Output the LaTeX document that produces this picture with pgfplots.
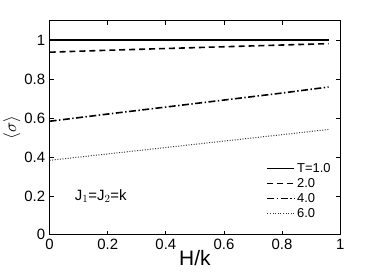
\documentclass[border=0pt]{standalone}
\usepackage{fontspec}
\setmainfont{Liberation Sans}
\setsansfont{Liberation Sans}
\usepackage{pgfplots}
\pgfplotsset{compat=1.18}
\begin{document}
\begin{tikzpicture}
\begin{axis}[
  scale only axis, width=292pt, height=215pt,
  xmin=0, xmax=1, ymin=0, ymax=1.1,
  xtick={0,0.2,0.4,0.6,0.8,1}, ytick={0,0.2,0.4,0.6,0.8,1},
  xticklabels={0,0.2,0.4,0.6,0.8,1}, yticklabels={0,0.2,0.4,0.6,0.8,1},
  /pgf/number format/assume math mode=true,
  tick align=inside, major tick length=4pt,
  axis line style={line width=1.2pt},
  every tick/.style={black, line width=0.8pt},
  tick label style={font=\fontsize{15}{17}\selectfont},
  xticklabel style={yshift=-1pt},
  yticklabel style={xshift=-1pt},
  xlabel={H/k}, xlabel style={font=\fontsize{21}{23}\selectfont, yshift=6pt},
  ylabel={$\langle\sigma\rangle$}, ylabel style={font=\fontsize{19}{21}\selectfont, yshift=-3pt},
  legend style={draw=none, fill=none, at={(0.985,0.055)}, anchor=south east,
    font=\fontsize{13}{15}\selectfont, row sep=0.5pt},
  legend cell align=left,
  legend image code/.code={\draw[#1] (0cm,0cm) -- (0.95cm,0cm);},
]
\addplot[black, line width=1.7pt] coordinates {(0,1.0) (0.96,1.0)};
\addlegendentry{T=1.0}
\addplot[black, line width=1.6pt, dash pattern=on 6pt off 4pt] coordinates {(0,0.939) (0.2,0.949) (0.4,0.958) (0.6,0.967) (0.8,0.976) (0.96,0.983)};
\addlegendentry{2.0}
\addplot[black, line width=1.6pt, dash pattern=on 7pt off 2.5pt on 1.4pt off 2.5pt] coordinates {(0,0.584) (0.2,0.621) (0.4,0.657) (0.6,0.693) (0.8,0.729) (0.96,0.760)};
\addlegendentry{4.0}
\addplot[black!80, line width=1pt, dash pattern=on 1pt off 1.6pt] coordinates {(0,0.383) (0.2,0.416) (0.4,0.449) (0.6,0.482) (0.8,0.515) (0.96,0.542)};
\addlegendentry{6.0}
\node[anchor=west, font=\fontsize{15}{17}\selectfont] at (axis cs:0.075,0.2) {J$_1$=J$_2$=k};
\end{axis}
\path[use as bounding box] (-48pt,-45pt) rectangle (326pt,236pt);
\end{tikzpicture}
\end{document}
